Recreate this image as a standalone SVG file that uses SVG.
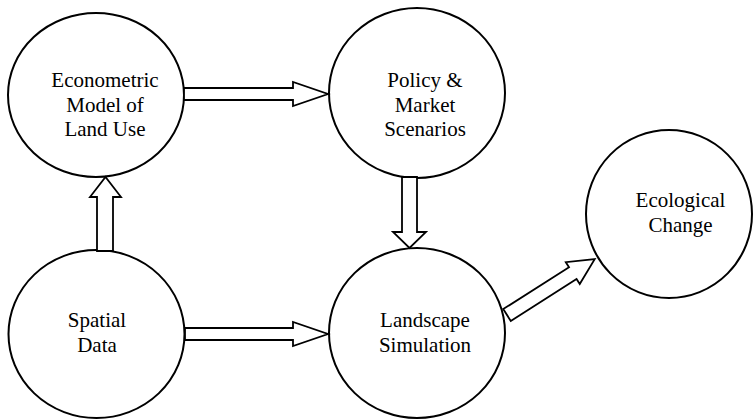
<svg xmlns="http://www.w3.org/2000/svg" width="753" height="419" viewBox="0 0 753 419">
  <style>
    .node { fill: #ffffff; stroke: #000000; stroke-width: 2; }
    .arrow { fill: #ffffff; stroke: #000000; stroke-width: 1.8; stroke-linejoin: miter; }
    text { font-family: "Times New Roman", Times, "Liberation Serif", Tinos, "Noto Serif", "DejaVu Serif", FreeSerif, serif; font-size: 21px; fill: #000000; text-anchor: middle; }
  </style>
  <rect width="753" height="419" fill="#ffffff"/>

  <g id="node-econometric">
    <ellipse class="node" cx="96" cy="95" rx="88" ry="82"/>
    <text x="105" y="87">Econometric</text>
    <text x="105" y="111.5">Model of</text>
    <text x="105" y="136">Land Use</text>
  </g>

  <g id="node-policy">
    <ellipse class="node" cx="417" cy="93" rx="88" ry="85"/>
    <text x="425" y="87">Policy &amp;</text>
    <text x="425" y="111.5">Market</text>
    <text x="425" y="136">Scenarios</text>
  </g>

  <g id="node-spatial">
    <ellipse class="node" cx="96.5" cy="334" rx="88" ry="84"/>
    <text x="97" y="327">Spatial</text>
    <text x="97" y="352">Data</text>
  </g>

  <g id="node-landscape">
    <ellipse class="node" cx="417" cy="333" rx="88" ry="85"/>
    <text x="425" y="327">Landscape</text>
    <text x="425" y="352">Simulation</text>
  </g>

  <g id="node-ecological">
    <ellipse class="node" cx="669" cy="214" rx="83" ry="84"/>
    <text x="680.5" y="207">Ecological</text>
    <text x="680.5" y="232">Change</text>
  </g>

  <g id="connectors">
    <!-- Econometric model -> Policy & market scenarios -->
    <polygon class="arrow" points="184,88 293,88 293,82 328,94 293,106 293,100 184,100"/>
    <!-- Spatial data -> Landscape simulation -->
    <polygon class="arrow" points="185,328 293,328 293,322 328,334 293,346 293,340 185,340"/>
    <!-- Spatial data -> Econometric model -->
    <polygon class="arrow" points="97,251 97,197 90,197 105.5,177 121,197 113,197 113,251"/>
    <!-- Policy & market scenarios -> Landscape simulation -->
    <polygon class="arrow" points="402,177 417,177 417,232 426,232 409.5,248 393,232 402,232"/>
    <!-- Landscape simulation -> Ecological change -->
    <polygon class="arrow" transform="translate(507,315) rotate(-32.5)" points="0,-7 78,-7 78,-13 104,0 78,13 78,7 0,7"/>
  </g>
</svg>
